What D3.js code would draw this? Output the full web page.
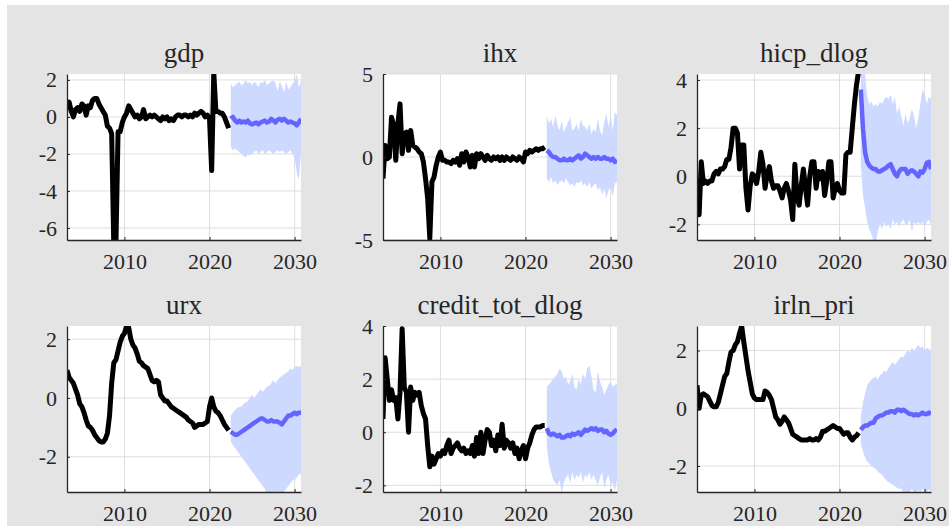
<!DOCTYPE html>
<html>
<head>
<meta charset="utf-8">
<script src="https://cdn.jsdelivr.net/npm/d3@7"></script>
<style>
  body { margin: 0; background: #fff; }
  svg { display: block; }
  text { font-family: "Liberation Serif", "Times New Roman", serif; fill: #262626; }
</style>
</head>
<body>
<svg id="chart" width="949" height="526"></svg>
<script>
// quarterly data: history 2003Q2..2022Q2, forecast 2022Q3..2030Q4
const histStart = 2003.25;
const fcStart = 2022.5;
const xDomain = [2003.25, 2030.75];
const xTicks = [2010, 2020, 2030];

const gdpHist = [
  0.4, 0.8, 0.3,
  0.0, 0.4, 0.5, 0.3,
  0.7, 0.6, 0.1, 0.6,
  0.5, 0.9, 1.0, 1.0,
  0.7, 0.5, 0.3, 0.1,
  -0.5, -0.6, -0.9, -7.0,
  -6.9, -0.8, -0.8, -0.3,
  0.0, 0.2, 0.6, 0.4,
  0.2, 0.0, 0.1, -0.1,
  0.0, 0.4, -0.1, 0.0,
  0.1, 0.0, 0.1, 0.0,
  -0.1, -0.2, 0.0, -0.1,
  0.0, -0.2, -0.1, -0.2,
  0.0, 0.1, 0.1, 0.0,
  0.1, 0.1, 0.0, 0.1,
  0.0, 0.2, 0.1, 0.2,
  0.3, 0.2, 0.0, 0.1,
  -0.1, -2.9, 2.4, 0.3,
  0.3, 0.2, 0.2, 0.0,
  -0.3, -0.6
];
const gdpMean = [
  -0.1, 0.0,
  -0.2, -0.3, -0.2, -0.3,
  -0.25, -0.3, -0.2, -0.35,
  -0.4, -0.35, -0.3, -0.4,
  -0.3, -0.25, -0.2, -0.3,
  -0.25, -0.1, -0.2, -0.3,
  -0.15, -0.1, -0.2, -0.1,
  -0.2, -0.3, -0.25, -0.3,
  -0.35, -0.45, -0.3, -0.1
];
const gdpHi = [
  1.8, 1.6,
  1.7, 1.8, 1.9, 1.7,
  1.8, 2.0, 1.8, 1.9,
  1.7, 1.9, 1.8, 1.6,
  1.9, 1.8, 2.0, 1.7,
  1.8, 1.9, 2.0, 1.8,
  1.4, 1.9, 1.7, 1.3,
  1.9, 1.5, 1.6, 1.8,
  1.9, 2.3, 1.6, 1.9
];
const gdpLo = [
  -1.6, -1.8,
  -1.7, -1.8, -1.9, -2.0,
  -2.1, -2.2, -2.0, -2.1,
  -2.0, -1.9, -1.8, -2.0,
  -1.9, -1.8, -2.0, -1.9,
  -1.8, -1.9, -2.0, -1.9,
  -1.8, -1.9, -1.8, -1.9,
  -2.0, -1.9, -1.8, -2.0,
  -2.2, -3.0, -3.4, -1.9
];

const ihxHist = [
  -1.3, 0.7, -0.1,
  0.0, 2.4, 1.9, -0.2,
  2.0, 3.2, 0.2, 1.4,
  1.5, 0.4, 1.6, 0.7,
  0.6, 0.5, 0.3, 0.2,
  -0.3, -1.3, -2.5, -4.9,
  -1.5, -1.2, -0.5, 0.0,
  0.3, -0.2, -0.2, -0.3,
  -0.3, -0.4, -0.2, -0.3,
  -0.1, -0.5, 0.2, -0.3,
  0.3, 0.0, -0.6, 0.1,
  -0.6, 0.2, -0.1, 0.2,
  0.0, -0.2, 0.1, -0.1,
  -0.2, 0.0, -0.1, 0.0,
  -0.2, 0.0, -0.2, 0.0,
  -0.1, -0.2, 0.0, -0.1,
  -0.2, 0.0, -0.1, -0.3,
  0.3, 0.2, 0.4, 0.3,
  0.4, 0.5, 0.4, 0.5,
  0.5, 0.6
];
const ihxMean = [
  0.4, 0.3,
  0.1, 0.0, 0.0, -0.1,
  -0.2, -0.2, -0.1, -0.2,
  -0.2, -0.1, -0.2, -0.1,
  0.0, 0.1, -0.1, 0.0,
  0.2, 0.1, 0.0, -0.1,
  0.0, -0.1, 0.0, -0.1,
  -0.1, 0.0, -0.1, -0.1,
  -0.2, -0.1, -0.3, -0.2
];
const ihxHi = [
  2.5, 2.0,
  2.3, 1.8, 2.5, 1.9,
  1.6, 2.2, 1.5, 1.8,
  2.1, 2.4, 1.6, 1.7,
  2.0, 1.6, 2.3, 1.9,
  1.8, 1.6, 2.0, 1.4,
  1.7, 1.5, 2.3, 1.6,
  1.3, 2.1, 2.6, 1.8,
  2.5, 1.6, 2.7, 2.5
];
const ihxLo = [
  -1.3, -1.5,
  -1.2, -1.6, -1.4, -1.7,
  -1.5, -1.4, -1.6, -1.3,
  -1.5, -1.7, -1.6, -1.8,
  -1.5, -1.6, -1.4, -1.7,
  -1.6, -1.8, -1.5, -1.9,
  -1.7, -1.6, -2.0, -1.8,
  -2.3, -1.9, -2.5, -2.0,
  -1.8, -2.4, -1.6, -1.5
];

const hicpHist = [
  -0.6, -1.6, 0.6,
  -0.3, -0.2, -0.3, -0.2,
  -0.2, 0.1, 0.2, 0.1,
  0.3, 0.3, 0.4, 0.7,
  0.7, 1.2, 2.0, 2.0,
  1.8, 0.3, 1.3, 1.3,
  -0.5, -1.4, -0.4, 0.1,
  0.0, -0.3, 0.2, 1.0,
  0.5, -0.5, 0.1, 0.4,
  -0.2, -0.5, -0.4, -0.4,
  -0.6, -0.9, -0.5, -0.3,
  -0.6, -1.0, -1.8, 0.5,
  -0.8, -1.2, -0.4, 0.3,
  -0.5, -1.2, 0.0, 0.6,
  0.6, -0.5, 0.2, -0.1,
  0.2, -0.8, -0.2, 0.6,
  0.6, -0.9, -0.5, -0.3,
  -0.6, -0.7, -0.7, 0.9,
  1.0, 1.0, 2.0, 3.0,
  3.8, 4.4
];
const hicpMean = [
  3.6, 2.0,
  1.0, 0.6, 0.45, 0.35,
  0.3, 0.3, 0.2, 0.2,
  0.25, 0.3, 0.35, 0.45,
  0.5, 0.3, 0.1, 0.0,
  0.2, 0.3, 0.3, 0.3,
  0.1, 0.2, 0.25, 0.2,
  0.1, 0.0, 0.2, 0.15,
  0.3, 0.55, 0.6, 0.3
];
const hicpHi = [
  5.0, 4.8,
  4.2, 3.3, 3.0, 3.1,
  2.9, 3.0, 2.9, 3.1,
  3.0, 3.2, 3.3, 3.2,
  3.4, 3.0, 3.3, 2.6,
  2.9, 2.5, 2.1, 2.6,
  2.2, 2.4, 2.8, 2.5,
  2.0, 2.4, 3.0, 3.6,
  3.4, 3.0, 3.3, 3.2
];
const hicpLo = [
  0.5, -0.8,
  -1.3, -1.9, -2.2, -2.4,
  -2.7, -2.8, -2.3, -2.0,
  -2.2, -1.9, -2.1, -2.0,
  -2.2, -1.8, -2.0, -1.9,
  -2.1, -1.9, -1.8, -2.0,
  -2.0, -1.8, -2.3, -1.9,
  -2.0, -1.9, -2.0, -1.9,
  -2.1, -1.9, -1.8, -2.0
];

const urxHist = [
  0.95, 0.7, 0.6,
  0.5, 0.3, 0.1, -0.2,
  -0.3, -0.5, -0.75, -0.95,
  -1.0, -1.1, -1.25, -1.35,
  -1.45, -1.5, -1.5, -1.4,
  -1.2, -0.6, 0.5, 1.2,
  1.3, 1.6, 1.9, 2.1,
  2.2, 2.45, 2.4, 2.0,
  1.8, 1.7, 1.5, 1.25,
  1.2, 1.1, 1.05, 1.0,
  0.8, 0.6, 0.55, 0.6,
  0.55, 0.1, 0.0, -0.1,
  -0.1, -0.2, -0.3, -0.35,
  -0.4, -0.45, -0.5, -0.55,
  -0.6, -0.65, -0.75, -0.8,
  -0.85, -1.0, -0.95, -0.9,
  -0.9, -0.9, -0.85, -0.8,
  -0.3, 0.0, -0.3, -0.45,
  -0.5, -0.6, -0.75, -0.9,
  -1.0, -1.1
];
const urxMean = [
  -1.15, -1.2,
  -1.25, -1.25, -1.2, -1.15,
  -1.1, -1.05, -1.0, -0.95,
  -0.9, -0.85, -0.8, -0.75,
  -0.7, -0.7, -0.75, -0.8,
  -0.8, -0.75, -0.8, -0.8,
  -0.8, -0.85, -0.9, -0.8,
  -0.7, -0.6, -0.6, -0.55,
  -0.5, -0.55, -0.5, -0.5
];
const urxHi = [
  -0.6, -0.5,
  -0.4, -0.35, -0.3, -0.3,
  -0.2, -0.15, -0.1, 0.0,
  0.1, 0.0, 0.1, 0.2,
  0.3, 0.2, 0.3, 0.4,
  0.4, 0.5, 0.6, 0.5,
  0.6, 0.7, 0.75, 0.8,
  0.85, 0.9, 1.0, 0.95,
  1.05, 1.1, 1.05, 1.1
];
const urxLo = [
  -1.5, -1.6,
  -1.7, -1.8, -1.9, -2.0,
  -2.1, -2.2, -2.3, -2.4,
  -2.5, -2.6, -2.7, -2.8,
  -2.9, -3.0, -3.1, -3.3,
  -3.3, -3.3, -3.3, -3.3,
  -3.3, -3.2, -3.3, -3.2,
  -3.1, -3.0, -2.9, -2.8,
  -2.8, -2.7, -2.6, -2.6
];

const creditHist = [
  0.5, 2.8, 2.0,
  1.2, 1.6, 1.2, 1.3,
  0.5, 1.5, 3.9, 1.7,
  1.5, 0.0, 1.7, 1.2,
  1.5, 1.4, 1.5, 1.0,
  0.7, 0.5, -0.5, -1.3,
  -0.9, -1.2, -1.0, -0.8,
  -0.9, -0.7, -0.8, -0.5,
  -0.3, -0.8, -0.6, -0.5,
  -0.4, -0.6, -0.7, -0.6,
  -0.8, -0.7, -0.8, -0.5,
  -0.9, -0.2, -0.8, 0.0,
  -0.8, -0.3, 0.1, 0.0,
  -0.5, -0.3, -0.7, -0.1,
  -0.5, 0.3, -0.6, -0.3,
  -0.4, -0.6, -0.4, -0.8,
  -0.6, -1.0, -0.7, -0.5,
  -1.0, -0.6, -0.4, -0.1,
  0.1, 0.2, 0.2, 0.2,
  0.25, 0.25
];
const creditMean = [
  0.15, -0.05,
  -0.1, -0.05, -0.1, -0.15,
  -0.1, -0.2, -0.2, -0.15,
  -0.1, -0.15, -0.05, -0.1,
  -0.05, 0.0, -0.1, 0.0,
  0.1, 0.05, 0.1, 0.15,
  0.1, 0.15, 0.05, 0.1,
  0.1, 0.0, 0.05, -0.05,
  -0.1, -0.05, 0.05, 0.1
];
const creditHi = [
  1.7, 1.8,
  1.9, 2.0, 2.1, 2.2,
  2.4, 2.3, 2.0, 2.1,
  1.8, 1.9, 2.2, 1.7,
  1.6, 2.0, 1.8, 2.2,
  2.0, 2.4, 2.5, 2.1,
  1.6, 1.5, 2.3, 1.9,
  1.7, 1.4, 1.6, 1.8,
  1.9, 1.7, 1.8, 1.8
];
const creditLo = [
  -0.5, -1.2,
  -1.5, -1.8, -1.9, -2.0,
  -1.8, -2.3, -1.9, -1.7,
  -1.6, -1.9, -1.5, -1.8,
  -1.6, -1.7, -1.5, -1.9,
  -1.6, -1.7, -1.5, -1.8,
  -1.6, -1.8, -2.0, -1.7,
  -1.5, -2.1, -1.8, -1.6,
  -2.0, -1.9, -2.2, -1.8
];

const irlnHist = [
  0.8, 0.0, 0.45,
  0.5, 0.45, 0.4, 0.25,
  0.1, 0.05, 0.05, 0.2,
  0.5, 0.8, 1.1, 1.2,
  1.6, 1.95, 2.0, 2.2,
  2.3, 2.6, 2.85, 2.3,
  1.8, 1.3, 0.9, 0.5,
  0.35, 0.3, 0.3, 0.3,
  0.3, 0.6, 0.55, 0.45,
  0.3, 0.0, -0.3, -0.4,
  -0.55, -0.45, -0.3, -0.4,
  -0.5, -0.7, -0.9, -0.95,
  -1.0, -1.05, -1.1, -1.1,
  -1.1, -1.1, -1.05, -1.1,
  -1.1, -1.05, -1.1, -1.0,
  -0.8, -0.8, -0.75, -0.7,
  -0.65, -0.6, -0.65, -0.7,
  -0.7, -0.8, -0.9, -0.85,
  -0.85, -1.0, -1.1, -1.0,
  -0.95, -0.85
];
const irlnMean = [
  -0.75, -0.65,
  -0.6, -0.6, -0.55, -0.5,
  -0.5, -0.35, -0.3, -0.25,
  -0.25, -0.2, -0.15, -0.15,
  -0.1, -0.1, -0.15, -0.05,
  -0.05, -0.1, -0.05, -0.1,
  -0.15, -0.2, -0.2, -0.25,
  -0.2, -0.25, -0.2, -0.15,
  -0.2, -0.2, -0.15, -0.2
];
const irlnHi = [
  -0.3, 0.2,
  0.5, 0.8, 0.9, 1.0,
  1.05, 1.1, 1.0, 1.15,
  1.2, 1.3, 1.25, 1.4,
  1.5, 1.6, 1.5, 1.6,
  1.7, 1.8, 1.75, 1.9,
  2.0, 1.95, 2.1, 2.0,
  2.1, 2.2, 2.1, 2.15,
  2.0, 2.1, 2.05, 2.0
];
const irlnLo = [
  -1.2, -1.5,
  -1.7, -1.85, -1.9, -2.0,
  -2.05, -2.1, -2.2, -2.25,
  -2.3, -2.4, -2.5, -2.55,
  -2.6, -2.65, -2.7, -2.75,
  -2.8, -2.8, -2.9, -2.9,
  -2.9, -2.9, -2.8, -2.9,
  -2.9, -2.85, -2.9, -2.8,
  -2.85, -2.9, -2.8, -2.9
];

const titles = ["gdp", "ihx", "hicp_dlog", "urx", "credit_tot_dlog", "irln_pri"];
const yDomains = [[-6.65, 2.32], [-5, 5], [-2.65, 4.25], [-3.2, 2.45], [-2.25, 4], [-2.9, 2.85]];
const yTicks = [[-6, -4, -2, 0, 2], [-5, 0, 5], [-2, 0, 2, 4], [-2, 0, 2], [-2, 0, 2, 4], [-2, 0, 2]];

const panels = [
  {hist: gdpHist, mean: gdpMean, lo: gdpLo, hi: gdpHi},
  {hist: ihxHist, mean: ihxMean, lo: ihxLo, hi: ihxHi},
  {hist: hicpHist, mean: hicpMean, lo: hicpLo, hi: hicpHi},
  {hist: urxHist, mean: urxMean, lo: urxLo, hi: urxHi},
  {hist: creditHist, mean: creditMean, lo: creditLo, hi: creditHi},
  {hist: irlnHist, mean: irlnMean, lo: irlnLo, hi: irlnHi}
];

var serif = "'Liberation Serif', 'Times New Roman', serif";

var svg = d3.select("#chart");
svg.append("rect")
  .attr("x", 7).attr("y", 5)
  .attr("width", 942).attr("height", 521)
  .attr("fill", "#e4e4e4");

var cols = [67, 383, 697], rows = [74, 326],
    w = 234, h = 166;

panels.forEach(function(p, i) {
  var left = cols[i % 3], top = rows[Math.floor(i / 3)];
  var x = d3.scaleLinear().domain(xDomain).range([0, w]);
  var y = d3.scaleLinear().domain(yDomains[i]).range([h, 0]);

  var g = svg.append("g").attr("transform", "translate(" + left + "," + top + ")");

  g.append("rect").attr("width", w).attr("height", h).attr("fill", "#fff");

  g.append("clipPath").attr("id", "clip" + i)
    .append("rect").attr("width", w).attr("height", h);

  // grid
  g.selectAll(".vgrid").data(xTicks).enter().append("line")
    .attr("x1", d => x(d)).attr("x2", d => x(d))
    .attr("y1", 0).attr("y2", h)
    .attr("stroke", "#dedede").attr("stroke-width", 1);
  g.selectAll(".hgrid").data(yTicks[i]).enter().append("line")
    .attr("x1", 0).attr("x2", w)
    .attr("y1", d => y(d)).attr("y2", d => y(d))
    .attr("stroke", "#dedede").attr("stroke-width", 1);

  var plot = g.append("g").attr("clip-path", "url(#clip" + i + ")");

  var fcYear = j => fcStart + j * 0.25;
  var band = d3.area()
    .x((d, j) => x(fcYear(j)))
    .y0((d, j) => y(p.lo[j]))
    .y1((d, j) => y(p.hi[j]));
  plot.append("path").datum(p.hi)
    .attr("d", band)
    .attr("fill", "#cdd9ff");

  var histLine = d3.line()
    .x((d, j) => x(histStart + j * 0.25))
    .y(d => y(d));
  plot.append("path").datum(p.hist)
    .attr("d", histLine)
    .attr("fill", "none")
    .attr("stroke", "#000")
    .attr("stroke-width", 5)
    .attr("stroke-linejoin", "round");

  var fcLine = d3.line()
    .x((d, j) => x(fcYear(j)))
    .y(d => y(d));
  plot.append("path").datum(p.mean)
    .attr("d", fcLine)
    .attr("fill", "none")
    .attr("stroke", "#6464ff")
    .attr("stroke-width", 4.5)
    .attr("stroke-linejoin", "round");

  // axes (left and bottom only)
  var xAxis = g.append("g")
    .attr("transform", "translate(0," + h + ")")
    .call(d3.axisBottom(x).tickValues(xTicks).tickFormat(d => String(d))
      .tickSizeInner(-3).tickSizeOuter(0).tickPadding(13));
  var yAxis = g.append("g")
    .call(d3.axisLeft(y).tickValues(yTicks[i]).tickFormat(d => String(d))
      .tickSizeInner(-3).tickSizeOuter(0).tickPadding(10));
  [xAxis, yAxis].forEach(function(a) {
    a.attr("color", "#262626");
    a.selectAll("text").style("font-family", serif).style("font-size", "22px");
    a.select(".domain").attr("stroke-width", 1.3);
  });

  g.append("text")
    .attr("x", w / 2).attr("y", -12)
    .attr("text-anchor", "middle")
    .style("font-family", serif)
    .style("font-size", "27px")
    .text(titles[i]);
});
</script>
</body>
</html>
